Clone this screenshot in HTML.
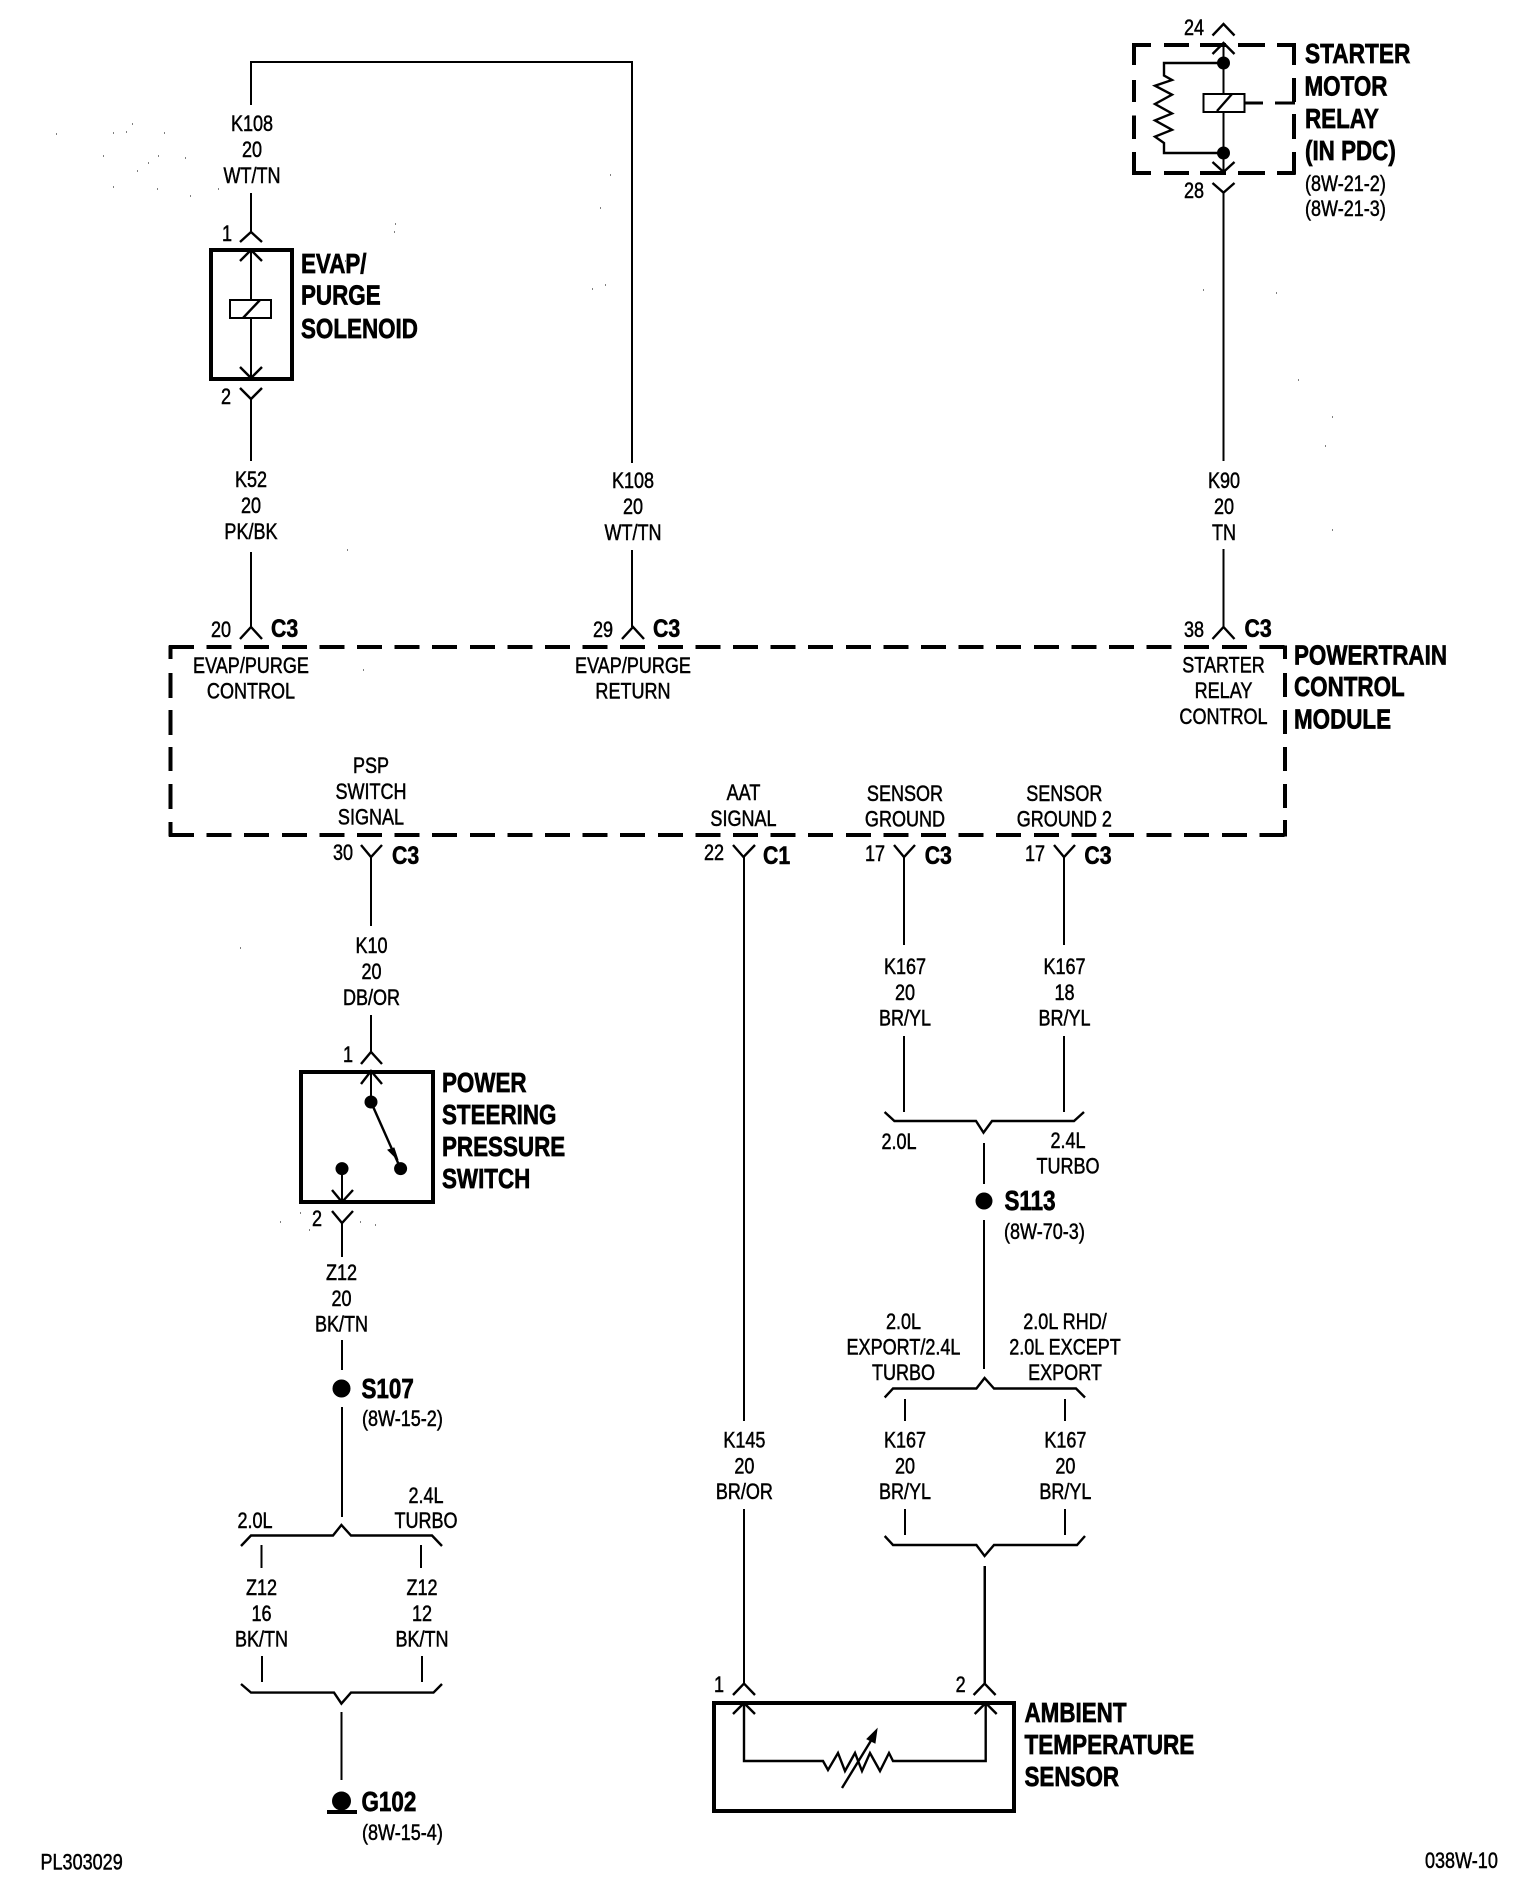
<!DOCTYPE html>
<html><head><meta charset="utf-8"><title>Wiring diagram</title>
<style>
html,body{margin:0;padding:0;background:#fff}
svg{display:block}
.w{fill:none;stroke:#000;stroke-width:2.4;shape-rendering:crispEdges}
.a{fill:none;stroke:#000;stroke-width:2.4}
.h{fill:none;stroke:#000;stroke-width:4;shape-rendering:crispEdges}
.d{fill:none;stroke:#000;stroke-width:3.6;shape-rendering:crispEdges}
text{font-family:"Liberation Sans",sans-serif;fill:#000;stroke:#000}
.t{font-size:22px;stroke-width:.5}
.m{text-anchor:middle}
.b{font-size:28px;font-weight:bold;stroke-width:.7}
.c{font-size:25px;font-weight:bold;stroke-width:.6}
</style></head><body>
<svg xmlns="http://www.w3.org/2000/svg" width="1536" height="1902" viewBox="0 0 1536 1902">
<rect width="1536" height="1902" fill="#fff"/>

<!-- wires -->
<path class="w" d="M251 105V62H632V463M632 550V627M251 193V232M251 399V461M251 552V627"/>
<path class="w" d="M1223.5 192V461M1223.5 549V627M371 857V926M371 1015V1052M342 1223V1257M342 1340V1370M342 1407V1517"/>
<path class="w" d="M261.5 1545V1568M421 1545V1568M262 1656V1682M422 1656V1682M341.5 1712V1780"/>
<path class="w" d="M744 857V1421M744 1509V1683M904 857V945M1064 857V945M904 1036V1112M1064 1036V1112M984 1143V1184M984 1220V1369"/>
<path class="w" d="M905 1399V1421M1065 1399V1421M905 1509V1535M1065 1509V1535M984.6 1566V1683"/>

<!-- chevrons -->
<path class="a" d="M240 242L251 232L262 242M240 261L251 250L262 261M240 367L251 378L262 367M240 388L251 399L262 388"/>
<path class="a" d="M240 639L251 627L262 639M622 639L633 627L644 639M1212.5 639L1223.5 627L1234.5 639"/>
<path class="a" d="M1212.5 35.5L1223.5 24L1234.5 35.5M1212.5 54L1223.5 43L1234.5 54M1212.5 162L1223.5 172L1234.5 162M1212.5 183L1223.5 192.6L1234.5 183"/>
<path class="a" d="M361 845L371 857L382 845M733 845L743.5 857L755 845M894 845L904 857L915 845M1054 845L1064 857L1075 845"/>
<path class="a" d="M361 1064L371 1052L382 1064M361 1084L371 1071L382 1084M332 1190L342 1202L353 1190M332 1211L342 1223L353 1211"/>
<path class="a" d="M733 1695L744 1683.6L755 1695M733 1714L744 1703L755 1714M973.6 1695L984.6 1683.6L995.6 1695M974.7 1714L985.7 1703L996.7 1714"/>

<!-- brackets -->
<path class="a" d="M241 1546L251 1535.5H333L341.4 1525L351 1535.5H432L442 1546"/>
<path class="a" d="M241 1684L251 1692.6H334L341.4 1703.6L351 1692.6H433.5L442 1684"/>
<path class="a" d="M884.6 1112L894.4 1121H976L983.5 1132.6L992 1121H1074L1084 1112"/>
<path class="a" d="M884.7 1397.5L893 1388.5H976.4L984.6 1378L994 1388.5H1076L1085 1397.5"/>
<path class="a" d="M884.7 1536L893 1545H976.4L984.6 1556L994 1545H1077L1085 1536"/>

<!-- EVAP solenoid -->
<rect class="h" x="211" y="250" width="81" height="129"/>
<path class="w" d="M251 250V300M251 318V378"/>
<rect class="w" x="230" y="300" width="41" height="18" fill="#fff"/>
<path class="a" d="M243 318L260 300"/>

<!-- Starter relay -->
<path class="d" d="M1132 45H1151M1164 45H1189M1200 45H1226M1238 45H1265M1277 45H1295.5M1132 173H1151M1164 173H1189M1200 173H1226M1238 173H1265M1277 173H1295.5"/>
<path class="d" d="M1134 43V65M1134 80V102M1134 115.5V139M1134 152V174.5M1294 43V65M1294 78V102M1294 114V139M1294 152V174.5"/>
<path class="d" d="M1244.6 103H1263M1275 103H1295" style="stroke-width:2.6"/>
<path class="w" d="M1223.5 43V94M1223.5 112V172"/>
<rect class="w" x="1203.5" y="94" width="41" height="18" fill="#fff"/>
<path class="a" d="M1217 111L1232 94"/>
<circle cx="1223.5" cy="63" r="6.5"/><circle cx="1223.5" cy="153" r="6.5"/>
<path class="a" d="M1223.5 63H1164V75.5L1172 80L1155 85.7L1172 94.7L1155 104L1172 113.5L1155 120.4L1172 129.8L1155 136.7L1164 143V153H1223.5"/>

<!-- PCM dashed box -->
<path class="d" d="M169 647H1286" stroke-dasharray="25 12.6"/>
<path class="d" d="M169 835H1286" stroke-dasharray="25 12.6"/>
<path class="d" d="M170.5 645.5V659M170.5 673V698M170.5 710V735M170.5 747V771M170.5 784V809M170.5 822V836.5"/>
<path class="d" d="M1285 645.5V659M1285 673V697M1285 710V734M1285 747V771M1285 784V808M1285 820V836.5"/>

<!-- PSP switch -->
<rect class="h" x="301" y="1072" width="132" height="130"/>
<path class="w" d="M371 1071V1102M342 1168V1202"/>
<path class="a" d="M371 1102L400.6 1168.6"/>
<path d="M388 1150L398 1160L394 1148Z" stroke="#000"/>
<circle cx="371" cy="1102" r="6.5"/><circle cx="400.6" cy="1168.6" r="6.5"/><circle cx="342" cy="1168.6" r="6.5"/>

<!-- Ambient sensor -->
<rect class="h" x="714" y="1703" width="300" height="108"/>
<path class="a" d="M744 1703V1761H823L828 1770L838 1753L845 1771L855 1753L862 1771L870 1753L880 1771L889 1753L893 1761H985.7V1703"/>
<path class="a" d="M842 1788L872 1739"/>
<path d="M877 1729L875 1743L867 1739Z" stroke="#000"/>

<!-- splices & ground -->
<circle cx="341.5" cy="1388.5" r="9"/>
<circle cx="984" cy="1201" r="8.5"/>
<circle cx="341.5" cy="1801" r="9.5"/>
<path class="d" d="M327 1812H357"/>

<!-- specks -->
<path fill="none" stroke="#000" stroke-width="1" d="M56 134h1M113 133h1M126 132h1M132 124h1M164 133h1M103 156h1M158 156h1M185 158h1M148 163h1M137 171h1M113 187h1M157 189h1M190 196h1M218 189h1M395 224h1M345 261h1M394 232h1M610 175h1M600 208h1M592 289h1M605 285h1M347 550h1M363 670h1M1203 290h1M1276 293h1M1298 380h1M1332 417h1M1325 446h1M1332 530h1M309 1230h1M280 1222h1M300 1213h1M375 1225h1M360 1222h1M240 948h1"/>

<!-- pin labels -->
<g class="t">
<text class="t m" transform="translate(227,241) scale(.82 1)">1</text>
<text class="t m" transform="translate(226,404) scale(.82 1)">2</text>
<text class="t m" transform="translate(221,637) scale(.82 1)">20</text>
<text class="t m" transform="translate(603,637) scale(.82 1)">29</text>
<text class="t m" transform="translate(1194,637) scale(.82 1)">38</text>
<text class="t m" transform="translate(1194,35) scale(.82 1)">24</text>
<text class="t m" transform="translate(1194,198) scale(.82 1)">28</text>
<text class="t m" transform="translate(343,860) scale(.82 1)">30</text>
<text class="t m" transform="translate(714,860) scale(.82 1)">22</text>
<text class="t m" transform="translate(875,861) scale(.82 1)">17</text>
<text class="t m" transform="translate(1035,861) scale(.82 1)">17</text>
<text class="t m" transform="translate(348,1062) scale(.82 1)">1</text>
<text class="t m" transform="translate(317,1226) scale(.82 1)">2</text>
<text class="t m" transform="translate(719,1692) scale(.82 1)">1</text>
<text class="t m" transform="translate(960.6,1692) scale(.82 1)">2</text>
</g>

<!-- connector names -->
<text class="c" transform="translate(271,637) scale(.85 1)">C3</text>
<text class="c" transform="translate(653,637) scale(.85 1)">C3</text>
<text class="c" transform="translate(1244.5,637) scale(.85 1)">C3</text>
<text class="c" transform="translate(392,864) scale(.85 1)">C3</text>
<text class="c" transform="translate(763,864) scale(.85 1)">C1</text>
<text class="c" transform="translate(924.7,864) scale(.85 1)">C3</text>
<text class="c" transform="translate(1084.4,864) scale(.85 1)">C3</text>

<!-- wire labels -->
<text class="t m" transform="translate(252,131) scale(.82 1)"><tspan x="0">K108</tspan><tspan x="0" dy="26">20</tspan><tspan x="0" dy="26">WT/TN</tspan></text>
<text class="t m" transform="translate(251,487) scale(.82 1)"><tspan x="0">K52</tspan><tspan x="0" dy="26">20</tspan><tspan x="0" dy="26">PK/BK</tspan></text>
<text class="t m" transform="translate(633,488) scale(.82 1)"><tspan x="0">K108</tspan><tspan x="0" dy="26">20</tspan><tspan x="0" dy="26">WT/TN</tspan></text>
<text class="t m" transform="translate(1224,488) scale(.82 1)"><tspan x="0">K90</tspan><tspan x="0" dy="26">20</tspan><tspan x="0" dy="26">TN</tspan></text>
<text class="t m" transform="translate(371.5,953) scale(.82 1)"><tspan x="0">K10</tspan><tspan x="0" dy="26">20</tspan><tspan x="0" dy="26">DB/OR</tspan></text>
<text class="t m" transform="translate(341.5,1280) scale(.82 1)"><tspan x="0">Z12</tspan><tspan x="0" dy="26">20</tspan><tspan x="0" dy="25.5">BK/TN</tspan></text>
<text class="t m" transform="translate(261.5,1595) scale(.82 1)"><tspan x="0">Z12</tspan><tspan x="0" dy="26">16</tspan><tspan x="0" dy="25.5">BK/TN</tspan></text>
<text class="t m" transform="translate(422,1595) scale(.82 1)"><tspan x="0">Z12</tspan><tspan x="0" dy="26">12</tspan><tspan x="0" dy="25.5">BK/TN</tspan></text>
<text class="t m" transform="translate(744.4,1447.5) scale(.82 1)"><tspan x="0">K145</tspan><tspan x="0" dy="26">20</tspan><tspan x="0" dy="25.5">BR/OR</tspan></text>
<text class="t m" transform="translate(905,1447.5) scale(.82 1)"><tspan x="0">K167</tspan><tspan x="0" dy="26">20</tspan><tspan x="0" dy="25.5">BR/YL</tspan></text>
<text class="t m" transform="translate(1065.4,1447.5) scale(.82 1)"><tspan x="0">K167</tspan><tspan x="0" dy="26">20</tspan><tspan x="0" dy="25.5">BR/YL</tspan></text>
<text class="t m" transform="translate(905,974) scale(.82 1)"><tspan x="0">K167</tspan><tspan x="0" dy="26">20</tspan><tspan x="0" dy="25.5">BR/YL</tspan></text>
<text class="t m" transform="translate(1064.5,974) scale(.82 1)"><tspan x="0">K167</tspan><tspan x="0" dy="26">18</tspan><tspan x="0" dy="25.5">BR/YL</tspan></text>

<!-- PCM internal labels -->
<text class="t m" transform="translate(251,673) scale(.82 1)"><tspan x="0">EVAP/PURGE</tspan><tspan x="0" dy="25.5">CONTROL</tspan></text>
<text class="t m" transform="translate(633,673) scale(.82 1)"><tspan x="0">EVAP/PURGE</tspan><tspan x="0" dy="25.5">RETURN</tspan></text>
<text class="t m" transform="translate(1223.5,672.5) scale(.82 1)"><tspan x="0">STARTER</tspan><tspan x="0" dy="25.5">RELAY</tspan><tspan x="0" dy="26">CONTROL</tspan></text>
<text class="t m" transform="translate(371,773) scale(.82 1)"><tspan x="0">PSP</tspan><tspan x="0" dy="26">SWITCH</tspan><tspan x="0" dy="25.5">SIGNAL</tspan></text>
<text class="t m" transform="translate(743.5,800) scale(.82 1)"><tspan x="0">AAT</tspan><tspan x="0" dy="26">SIGNAL</tspan></text>
<text class="t m" transform="translate(905,801) scale(.82 1)"><tspan x="0">SENSOR</tspan><tspan x="0" dy="25.5">GROUND</tspan></text>
<text class="t m" transform="translate(1064.3,801) scale(.82 1)"><tspan x="0">SENSOR</tspan><tspan x="0" dy="25.5">GROUND 2</tspan></text>

<!-- branch labels -->
<text class="t m" transform="translate(255,1528) scale(.82 1)">2.0L</text>
<text class="t m" transform="translate(426,1503) scale(.82 1)"><tspan x="0">2.4L</tspan><tspan x="0" dy="25">TURBO</tspan></text>
<text class="t m" transform="translate(899,1149) scale(.82 1)">2.0L</text>
<text class="t m" transform="translate(1068,1148) scale(.82 1)"><tspan x="0">2.4L</tspan><tspan x="0" dy="25.5">TURBO</tspan></text>
<text class="t m" transform="translate(903.5,1329) scale(.82 1)"><tspan x="0">2.0L</tspan><tspan x="0" dy="25.5">EXPORT/2.4L</tspan><tspan x="0" dy="25.5">TURBO</tspan></text>
<text class="t m" transform="translate(1065,1329) scale(.82 1)"><tspan x="0">2.0L RHD/</tspan><tspan x="0" dy="25.5">2.0L EXCEPT</tspan><tspan x="0" dy="25.5">EXPORT</tspan></text>

<!-- component names -->
<text class="b" transform="translate(301,273) scale(.8 1)">EVAP/</text>
<text class="b" transform="translate(301,304.5) scale(.8 1)">PURGE</text>
<text class="b" transform="translate(301,338) scale(.8 1)">SOLENOID</text>
<text class="b" transform="translate(1305,63) scale(.81 1)">STARTER</text>
<text class="b" transform="translate(1304.5,95.5) scale(.8 1)">MOTOR</text>
<text class="b" transform="translate(1305,128) scale(.8 1)">RELAY</text>
<text class="b" transform="translate(1305,160) scale(.8 1)">(IN PDC)</text>
<text class="t" transform="translate(1305,191) scale(.82 1)">(8W-21-2)</text>
<text class="t" transform="translate(1305,216) scale(.82 1)">(8W-21-3)</text>
<text class="b" transform="translate(1294,664.5) scale(.8 1)">POWERTRAIN</text>
<text class="b" transform="translate(1294,696) scale(.8 1)">CONTROL</text>
<text class="b" transform="translate(1294,728.5) scale(.8 1)">MODULE</text>
<text class="b" transform="translate(442,1092) scale(.8 1)">POWER</text>
<text class="b" transform="translate(442,1124) scale(.8 1)">STEERING</text>
<text class="b" transform="translate(442,1156) scale(.8 1)">PRESSURE</text>
<text class="b" transform="translate(442,1188) scale(.8 1)">SWITCH</text>
<text class="b" transform="translate(1024.5,1722) scale(.8 1)">AMBIENT</text>
<text class="b" transform="translate(1024.5,1754) scale(.805 1)">TEMPERATURE</text>
<text class="b" transform="translate(1024.5,1786) scale(.8 1)">SENSOR</text>
<text class="b" transform="translate(361.5,1398) scale(.8 1)">S107</text>
<text class="t" transform="translate(362,1426) scale(.82 1)">(8W-15-2)</text>
<text class="b" transform="translate(1004.5,1210) scale(.8 1)">S113</text>
<text class="t" transform="translate(1004,1239) scale(.82 1)">(8W-70-3)</text>
<text class="b" transform="translate(361.5,1811) scale(.8 1)">G102</text>
<text class="t" transform="translate(362,1840) scale(.82 1)">(8W-15-4)</text>

<text class="t" transform="translate(40.5,1869.5) scale(.82 1)">PL303029</text>
<text class="t" transform="translate(1425,1868) scale(.82 1)">038W-10</text>
</svg>
</body></html>
